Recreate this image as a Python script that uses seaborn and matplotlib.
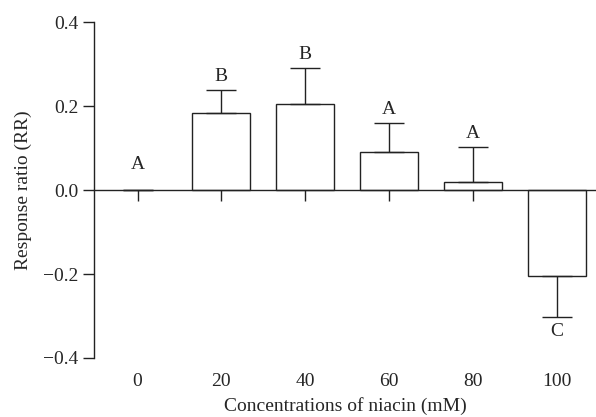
import numpy as np
import pandas as pd
import seaborn as sns
import matplotlib as mpl
mpl.use('Agg')
import matplotlib.pyplot as plt

# -------------------------
# Data
# -------------------------
concentrations = ['0', '20', '40', '60', '80', '100']
response_ratio = [0.0, 0.184, 0.206, 0.090, 0.018, -0.205]
error = [0.0, 0.054, 0.084, 0.069, 0.084, 0.097]
letters = ['A', 'B', 'B', 'A', 'A', 'C']

# -------------------------
# Configuration
# -------------------------
sns.set_theme(style='ticks')
fs = 14
plt.rcParams['font.family'] = ['Liberation Serif', 'DejaVu Serif']
plt.rcParams['font.size'] = fs
plt.rcParams['xtick.labelsize'] = fs
plt.rcParams['ytick.labelsize'] = fs
plt.rcParams['axes.labelsize'] = fs
plt.rcParams['axes.unicode_minus'] = True

line_color = '#222222'
lw = 1.0

df = pd.DataFrame({'conc': concentrations, 'rr': response_ratio, 'err': error})

# -------------------------
# Figure
# -------------------------
fig = plt.figure(figsize=(5.96, 4.17), dpi=100)
ax = fig.add_axes([0.1577, 0.1415, 0.8423, 0.8055])

sns.barplot(data=df, x='conc', y='rr', order=concentrations, color='white',
            edgecolor=line_color, linewidth=lw, width=0.69, errorbar=None,
            saturation=1, ax=ax)

# Hide the outline of zero-height bars
for p in ax.patches:
    if p.get_height() == 0:
        p.set_linewidth(0)

# One-sided error bars (away from zero)
rr = np.array(response_ratio)
err = np.array(error)
lower = np.where(rr < 0, err, 0)
upper = np.where(rr >= 0, err, 0)
xs = np.arange(len(concentrations))
ax.errorbar(xs, rr, yerr=[lower, upper], fmt='none', ecolor=line_color,
            elinewidth=lw, capsize=11, capthick=lw)

# Significance letters
for x, v, e, t in zip(xs, rr, err, letters):
    if v < 0:
        ax.text(x, v - e - 0.015, t, ha='center', va='top', fontsize=fs)
    elif e == 0:
        ax.text(x, 0.04, t, ha='center', va='bottom', fontsize=fs)
    else:
        ax.text(x, v + e + 0.012, t, ha='center', va='bottom', fontsize=fs)

# Axes
ax.set_xlim(-0.52, 5.47)
ax.set_ylim(-0.4, 0.4)
ax.set_yticks([-0.4, -0.2, 0.0, 0.2, 0.4])
ax.set_yticklabels(['\u22120.4', '\u22120.2', '0.0', '0.2', '0.4'])
ax.set_xlabel('Concentrations of niacin (mM)', labelpad=5)
ax.set_ylabel('Response ratio (RR)', labelpad=8)

ax.spines['top'].set_visible(False)
ax.spines['right'].set_visible(False)
ax.spines['bottom'].set_position(('data', 0))
for s in ['left', 'bottom']:
    ax.spines[s].set_linewidth(lw)
    ax.spines[s].set_color(line_color)

ax.tick_params(axis='y', length=8, width=lw, color=line_color, pad=3)
ax.tick_params(axis='x', length=8, width=lw, color=line_color, pad=124)

fig.savefig('out.png', dpi=100)
